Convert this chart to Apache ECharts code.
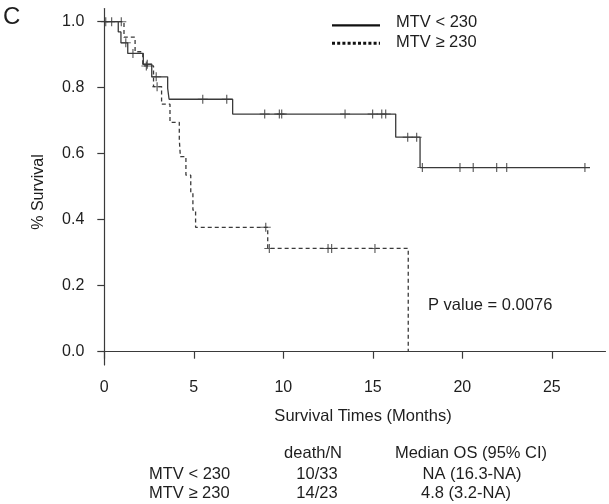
<!DOCTYPE html>
<html>
<head>
<meta charset="utf-8">
<script src="https://cdn.jsdelivr.net/npm/echarts@6/dist/echarts.min.js"></script>
<style>
html,body{margin:0;padding:0;background:#fff;}
#c{width:609px;height:504px;}
</style>
</head>
<body>
<div id="c"></div>
<script>
// ---- data ----
var seriesNames = ['MTV < 230', 'MTV \u2265 230'];
// MTV < 230 : event times (months) and survival after each drop
var lowTimes = [0, 0.78, 0.93, 1.31, 2.18, 2.65, 3.54, 3.62, 7.17, 16.28, 17.64, 27.13];
var lowSurv  = [1, 0.969, 0.936, 0.904, 0.871, 0.833, 0.798, 0.765, 0.720, 0.650, 0.558, 0.558];
var lowCensT = [0.08, 0.41, 1.20, 1.60, 2.40, 2.90, 5.50, 6.84, 8.96, 9.78, 9.91, 13.45, 14.99, 15.50, 15.72, 16.95, 17.45, 17.77, 19.87, 20.61, 21.92, 22.48, 26.85];
var lowCensS = [1, 1, 0.936, 0.904, 0.871, 0.833, 0.765, 0.765, 0.720, 0.720, 0.720, 0.720, 0.720, 0.720, 0.720, 0.650, 0.650, 0.558, 0.558, 0.558, 0.558, 0.558, 0.558];
// MTV >= 230
var highTimes = [0, 1.10, 1.72, 2.15, 2.75, 3.20, 3.67, 4.19, 4.25, 4.56, 4.83, 4.95, 5.10, 9.13, 16.98];
var highSurv  = [1, 0.953, 0.909, 0.866, 0.803, 0.750, 0.695, 0.643, 0.591, 0.535, 0.482, 0.429, 0.377, 0.313, 0];
var highCensT = [0.95, 2.35, 2.95, 9.02, 9.22, 12.50, 12.70, 15.12];
var highCensS = [1, 0.866, 0.803, 0.377, 0.313, 0.313, 0.313, 0.313];
// axes
var xTicks = [0, 5, 10, 15, 20, 25];
var yTicks = [0, 0.2, 0.4, 0.6, 0.8, 1.0];
// summary table
var tableHeader = ['death/N', 'Median OS (95% CI)'];
var deathN = ['10/33', '14/23'];
var medianOS = ['NA (16.3-NA)', '4.8 (3.2-NA)'];
var pText = 'P value = 0.0076';

// ---- build ----
function zip(a, b) { return a.map(function (v, i) { return [v, b[i]]; }); }
var FONT = '"Liberation Sans", Arial, sans-serif';
var INK = '#1e1e1e';
var LINE = '#3a3a3a';
var FS = 16.5;
var plus = 'path://M-0.6,-5 L0.6,-5 L0.6,-0.55 L5,-0.55 L5,0.55 L0.6,0.55 L0.6,5 L-0.6,5 L-0.6,0.55 L-5,0.55 L-5,-0.55 L-0.6,-0.55 Z';

var chart = echarts.init(document.getElementById('c'), null, {renderer: 'canvas'});

function txt(text, x, y, align, size, extra) {
  var o = {type: 'text', x: x, y: y, silent: true,
    style: {text: text, fill: INK, font: (size || FS) + 'px ' + FONT, textAlign: align || 'left', textVerticalAlign: 'middle'}};
  if (extra) for (var k in extra) o[k] = extra[k];
  return o;
}

var graphics = [
  txt('C', 3, 17, 'left', 24),
  txt('% Survival', 39, 192, 'center', 16, {rotation: Math.PI / 2}),
  txt('Survival Times (Months)', 363, 416, 'center'),
  txt(pText, 428, 305, 'left'),
  {type: 'line', silent: true, shape: {x1: 332, y1: 25.3, x2: 380, y2: 25.3}, style: {stroke: '#111', lineWidth: 2.2}},
  {type: 'line', silent: true, shape: {x1: 332, y1: 43.3, x2: 380, y2: 43.3}, style: {stroke: '#111', lineWidth: 3, lineDash: [3, 2.2]}},
  txt(seriesNames[0], 396, 22, 'left'),
  txt(seriesNames[1], 396, 42, 'left'),
  txt(tableHeader[0], 313, 453, 'center'),
  txt(tableHeader[1], 471, 453, 'center'),
  txt(seriesNames[0], 149, 474, 'left'),
  txt(deathN[0], 317, 474, 'center'),
  txt(medianOS[0], 472, 474, 'center'),
  txt(seriesNames[1], 149, 493, 'left'),
  txt(deathN[1], 317, 493, 'center'),
  txt(medianOS[1], 466, 493, 'center')
];

chart.setOption({
  animation: false,
  backgroundColor: '#fff',
  grid: {left: 104.3, top: 8.5, width: 501.2, height: 356.4, containLabel: false},
  xAxis: {
    type: 'value', min: 0, max: 28,
    axisLine: {show: true, lineStyle: {color: LINE, width: 1.2}},
    axisTick: {show: true, length: 7, customValues: xTicks, lineStyle: {color: LINE, width: 1.2}},
    axisLabel: {customValues: xTicks, margin: 15, color: INK, fontSize: 16, fontFamily: FONT},
    splitLine: {show: false}
  },
  yAxis: {
    type: 'value', min: -0.04, max: 1.04,
    axisLine: {show: true, lineStyle: {color: LINE, width: 1.2}},
    axisTick: {show: true, length: 7, customValues: yTicks, lineStyle: {color: LINE, width: 1.2}},
    axisLabel: {customValues: yTicks, margin: 20, color: INK, fontSize: 16, fontFamily: FONT,
      formatter: function (v) { return (+v).toFixed(1); }},
    splitLine: {show: false}
  },
  series: [
    {name: seriesNames[0], type: 'line', step: 'end', showSymbol: false, data: zip(lowTimes, lowSurv),
      lineStyle: {color: LINE, width: 1.3, type: 'solid'}},
    {name: seriesNames[1], type: 'line', step: 'end', showSymbol: false, data: zip(highTimes, highSurv),
      lineStyle: {color: LINE, width: 1.3, type: [4, 3]}},
    {type: 'scatter', data: zip(lowCensT, lowCensS), symbol: plus, symbolSize: [10, 9],
      itemStyle: {color: LINE}},
    {type: 'scatter', data: zip(highCensT, highCensS), symbol: plus, symbolSize: [10, 9],
      itemStyle: {color: LINE}}
  ],
  graphic: graphics
});
</script>
</body>
</html>
